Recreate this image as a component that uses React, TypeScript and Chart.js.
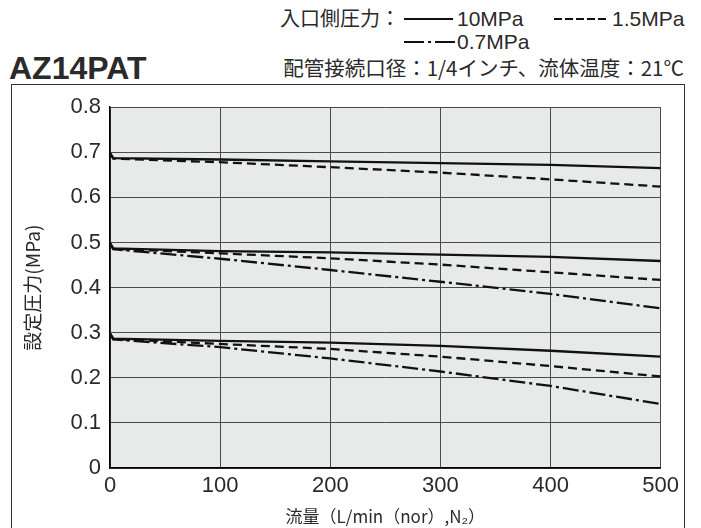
import React, { useEffect, useRef } from "react";
import { Chart, registerables } from "chart.js";

Chart.register(...registerables);

// ---- data ----
const flowPoints = [0, 3, 100, 200, 300, 400, 500];
const top10 = [0.698, 0.687, 0.684, 0.68, 0.676, 0.672, 0.665];
const top15 = [0.698, 0.686, 0.678, 0.667, 0.655, 0.64, 0.624];
const mid10 = [0.498, 0.487, 0.481, 0.478, 0.473, 0.468, 0.459];
const mid15 = [0.498, 0.486, 0.476, 0.465, 0.451, 0.434, 0.417];
const mid07 = [0.498, 0.485, 0.464, 0.439, 0.413, 0.386, 0.354];
const bot10 = [0.298, 0.287, 0.282, 0.278, 0.271, 0.26, 0.247];
const bot15 = [0.298, 0.286, 0.275, 0.264, 0.247, 0.226, 0.203];
const bot07 = [0.298, 0.285, 0.268, 0.243, 0.214, 0.182, 0.142];

const xTicks = [0, 100, 200, 300, 400, 500];
const yTickLabels = ["0", "0.1", "0.2", "0.3", "0.4", "0.5", "0.6", "0.7", "0.8"];

const chartTitle = "AZ14PAT";
const legendHead = "入口側圧力：";
const legend10 = "10MPa";
const legend15 = "1.5MPa";
const legend07 = "0.7MPa";
const conditionText = "配管接続口径：1/4インチ、流体温度：21℃";
const xTitle = "流量（L/min（nor）,N₂）";
const yTitle = "設定圧力(MPa)";

const SOLID: number[] = [];
const DASH = [9, 5];
const DASHDOT = [16, 4, 3, 4];

const LATIN = '"Liberation Sans", "Noto Sans CJK JP", sans-serif';
const CJK = '"Noto Sans CJK JP", "Liberation Sans", sans-serif';
const TEXT = "#2a2a2a";

function mk(values: number[], dash: number[]) {
  return {
    data: flowPoints.map((x, i) => ({ x, y: values[i] })),
    borderColor: "#111",
    borderWidth: 2.3,
    borderDash: dash,
    pointRadius: 0,
    fill: false,
    tension: 0,
  };
}

const bgPlugin = {
  id: "plotBg",
  beforeDraw(chart: any) {
    const { ctx, chartArea } = chart;
    ctx.save();
    ctx.fillStyle = "#e8e9e9";
    ctx.fillRect(chartArea.left, chartArea.top, chartArea.right - chartArea.left, chartArea.bottom - chartArea.top);
    ctx.restore();
  },
};

function ChartCanvas() {
  const ref = useRef<HTMLCanvasElement | null>(null);
  useEffect(() => {
    if (!ref.current) return;
    const chart = new Chart(ref.current, {
      type: "line",
      data: {
        datasets: [
          mk(top10, SOLID),
          mk(top15, DASH),
          mk(mid10, SOLID),
          mk(mid15, DASH),
          mk(mid07, DASHDOT),
          mk(bot10, SOLID),
          mk(bot15, DASH),
          mk(bot07, DASHDOT),
        ],
      },
      options: {
        animation: false,
        responsive: true,
        maintainAspectRatio: false,
        layout: { padding: { top: 21, right: 22, left: 0, bottom: 0 } },
        plugins: { legend: { display: false }, tooltip: { enabled: false } },
        scales: {
          x: {
            type: "linear",
            min: 0,
            max: 500,
            afterFit: (s: any) => {
              s.height = 60;
            },
            afterBuildTicks: (s: any) => {
              s.ticks = xTicks.map((v) => ({ value: v }));
            },
            ticks: {
              color: TEXT,
              font: { family: LATIN, size: 22 },
              padding: 5,
              maxRotation: 0,
              callback: (v: any) => String(v),
            },
            grid: { color: "#4a4a4a", lineWidth: 1, drawTicks: false },
            border: { color: "#000", width: 1.5 },
            title: {
              display: true,
              text: xTitle,
              color: TEXT,
              font: { family: CJK, size: 17 },
              padding: { top: 0, bottom: 1 },
            },
          },
          y: {
            type: "linear",
            min: 0,
            max: 0.8,
            afterFit: (s: any) => {
              s.width = 100;
            },
            afterBuildTicks: (s: any) => {
              s.ticks = yTickLabels.map((t) => ({ value: parseFloat(t) }));
            },
            ticks: {
              color: TEXT,
              font: { family: LATIN, size: 22 },
              padding: 9,
              callback: (v: any, i: number) => yTickLabels[i],
            },
            grid: { color: "#4a4a4a", lineWidth: 1, drawTicks: false },
            border: { color: "#000", width: 1.5 },
            title: {
              display: true,
              text: yTitle,
              color: TEXT,
              font: { family: CJK, size: 19 },
              padding: { top: 11, bottom: 0 },
            },
          },
        },
      },
      plugins: [bgPlugin],
    } as any);
    return () => chart.destroy();
  }, []);
  return <canvas ref={ref} />;
}

function Sample({ left, top, width, dash }: { left: number; top: number; width: number; dash: string }) {
  return (
    <svg style={{ position: "absolute", left, top: top - 3, width, height: 6 }} width={width} height={6}>
      <line x1={0} y1={3} x2={width} y2={3} stroke="#111" strokeWidth={2} strokeDasharray={dash} />
    </svg>
  );
}

function Txt({ left, right, cy, size, text, family, weight }: any) {
  const style: any = {
    position: "absolute",
    top: cy - size * 0.5,
    fontSize: size,
    lineHeight: `${size}px`,
    fontFamily: family,
    fontWeight: weight || 400,
    color: TEXT,
    whiteSpace: "nowrap",
  };
  if (left !== undefined) style.left = left;
  if (right !== undefined) style.right = right;
  return <div style={style}>{text}</div>;
}

export default function App() {
  return (
    <div
      style={{
        position: "fixed",
        left: 0,
        top: 0,
        width: 701,
        height: 528,
        overflow: "hidden",
        background: "#fff",
      }}
    >
      <Txt left={9} cy={68} size={32} text={chartTitle} family={LATIN} weight={700} />
      <Txt left={280} cy={18} size={20} text={legendHead} family={CJK} />
      <Sample left={404} top={19} width={49} dash="" />
      <Txt left={457} cy={18} size={21} text={legend10} family={LATIN} />
      <Sample left={554} top={19} width={54} dash="8 3" />
      <Txt left={612} cy={18} size={21} text={legend15} family={LATIN} />
      <Sample left={404} top={42} width={51} dash="20 4 3 4" />
      <Txt left={457} cy={41} size={21} text={legend07} family={LATIN} />
      <Txt right={17} cy={67} size={20.5} text={conditionText} family={CJK} />
      <div
        style={{
          position: "absolute",
          left: 11,
          top: 84,
          width: 674,
          height: 470,
          border: "1.5px solid #333",
          boxSizing: "border-box",
        }}
      />
      <div style={{ position: "absolute", left: 10, top: 85, width: 674, height: 443 }}>
        <ChartCanvas />
      </div>
    </div>
  );
}
